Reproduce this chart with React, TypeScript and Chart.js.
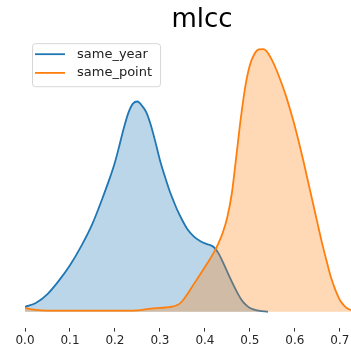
import React, { useEffect, useRef } from "react";
import { Chart, registerables } from "chart.js";

Chart.register(...registerables);

const titleText = "mlcc";
const seriesLabels = ["same_year", "same_point"];
const seriesColors = ["#1f77b4", "#ff7f0e"];
const seriesFills = ["rgba(31,119,180,0.3)", "rgba(255,127,14,0.3)"];

const sameYearX = [0, 0.025, 0.05, 0.075, 0.1, 0.125, 0.15, 0.175, 0.19, 0.2, 0.21, 0.22, 0.23, 0.24, 0.25, 0.26, 0.27, 0.28, 0.29, 0.3, 0.31, 0.32, 0.33, 0.34, 0.35, 0.36, 0.375, 0.39, 0.4, 0.41, 0.42, 0.43, 0.44, 0.45, 0.46, 0.47, 0.48, 0.49, 0.5, 0.52, 0.54];
const sameYearY = [0.14, 0.26, 0.51, 0.89, 1.34, 1.89, 2.54, 3.37, 3.91, 4.31, 4.8, 5.31, 5.74, 6.0, 6.06, 5.94, 5.74, 5.37, 4.89, 4.37, 3.94, 3.54, 3.2, 2.89, 2.63, 2.4, 2.17, 2.03, 1.97, 1.93, 1.86, 1.69, 1.43, 1.14, 0.86, 0.6, 0.37, 0.21, 0.11, 0.03, 0];

const samePointX = [0, 0.02, 0.05, 0.1, 0.15, 0.2, 0.25, 0.28, 0.3, 0.32, 0.34, 0.35, 0.36, 0.37, 0.38, 0.39, 0.4, 0.41, 0.42, 0.43, 0.44, 0.45, 0.46, 0.47, 0.48, 0.49, 0.5, 0.51, 0.52, 0.53, 0.54, 0.55, 0.56, 0.57, 0.58, 0.59, 0.6, 0.61, 0.62, 0.63, 0.64, 0.65, 0.66, 0.67, 0.68, 0.69, 0.7, 0.71, 0.72, 0.74, 0.76];
const samePointY = [0.11, 0.06, 0.03, 0.03, 0.03, 0.03, 0.04, 0.09, 0.11, 0.13, 0.2, 0.31, 0.49, 0.69, 0.89, 1.09, 1.29, 1.49, 1.71, 1.97, 2.29, 2.74, 3.43, 4.51, 5.6, 6.51, 7.11, 7.43, 7.56, 7.57, 7.46, 7.23, 6.94, 6.6, 6.23, 5.8, 5.34, 4.83, 4.29, 3.71, 3.14, 2.57, 2.0, 1.49, 1.0, 0.63, 0.34, 0.17, 0.07, 0.01, 0];

const xTicks = [0, 0.1, 0.2, 0.3, 0.4, 0.5, 0.6, 0.7];
const xMin = 0;
const xMax = 0.787;
const yMin = -0.457;
const yMax = 7.914;

const legendPlugin = {
  id: "boxLegend",
  afterDraw(chart: any) {
    const ctx = chart.ctx;
    const area = chart.chartArea;
    ctx.save();
    ctx.font = "13px 'DejaVu Sans'";
    let maxW = 0;
    seriesLabels.forEach((l) => {
      maxW = Math.max(maxW, ctx.measureText(l).width);
    });
    const x0 = area.left + 7;
    const y0 = area.top + 6;
    const w = 45 + maxW + 8;
    const h = 43;
    ctx.beginPath();
    if (ctx.roundRect) ctx.roundRect(x0 + 0.5, y0 + 0.5, w, h, 3);
    else ctx.rect(x0 + 0.5, y0 + 0.5, w, h);
    ctx.fillStyle = "rgba(255,255,255,0.8)";
    ctx.fill();
    ctx.strokeStyle = "rgba(204,204,204,0.8)";
    ctx.lineWidth = 1;
    ctx.stroke();
    seriesLabels.forEach((l, i) => {
      const cy = y0 + 11 + i * 18.7;
      ctx.beginPath();
      ctx.moveTo(x0 + 3, cy);
      ctx.lineTo(x0 + 33, cy);
      ctx.strokeStyle = seriesColors[i];
      ctx.lineWidth = 1.8;
      ctx.stroke();
      ctx.fillStyle = "#222";
      ctx.textBaseline = "middle";
      ctx.textAlign = "left";
      ctx.fillText(l, x0 + 45, cy);
    });
    ctx.restore();
  },
};

export default function App() {
  const ref = useRef<HTMLCanvasElement | null>(null);
  useEffect(() => {
    if (!ref.current) return;
    const xs = [sameYearX, samePointX];
    const ys = [sameYearY, samePointY];
    const chart = new Chart(ref.current, {
      type: "line",
      data: {
        datasets: seriesLabels.map((label, i) => ({
          label,
          data: xs[i].map((x, j) => ({ x, y: ys[i][j] })),
          borderColor: seriesColors[i],
          backgroundColor: seriesFills[i],
          borderWidth: 1.8,
          pointRadius: 0,
          fill: "origin",
          cubicInterpolationMode: "monotone" as const,
          order: seriesLabels.length - i,
        })),
      },
      options: {
        responsive: false,
        animation: false,
        devicePixelRatio: 1,
        layout: { padding: { left: 25, right: 25, top: 0, bottom: 0 } },
        plugins: {
          legend: { display: false },
          tooltip: { enabled: false },
          title: {
            display: true,
            text: titleText,
            color: "#000",
            font: { size: 26, family: "'DejaVu Sans'", weight: "normal" },
            padding: { top: 5, bottom: 1 },
          },
        },
        scales: {
          x: {
            type: "linear",
            min: xMin,
            max: xMax,
            afterBuildTicks: (scale: any) => {
              scale.ticks = xTicks.map((v) => ({ value: v }));
            },
            border: { display: false },
            grid: {
              display: true,
              drawOnChartArea: false,
              drawTicks: true,
              tickLength: 4,
              color: "#333",
              lineWidth: 1,
            },
            ticks: {
              color: "#262626",
              font: { size: 12, family: "'DejaVu Sans'" },
              padding: 2,
              maxRotation: 0,
              autoSkip: false,
              callback: (v: any) => Number(v).toFixed(1),
            },
          },
          y: {
            type: "linear",
            display: false,
            min: yMin,
            max: yMax,
          },
        },
      },
      plugins: [legendPlugin],
    });
    return () => chart.destroy();
  }, []);
  return (
    <div style={{ position: "absolute", left: 0, top: 0, width: 351, height: 350, overflow: "hidden", background: "#fff" }}>
      <canvas ref={ref} width={404} height={350} style={{ display: "block" }} />
    </div>
  );
}
